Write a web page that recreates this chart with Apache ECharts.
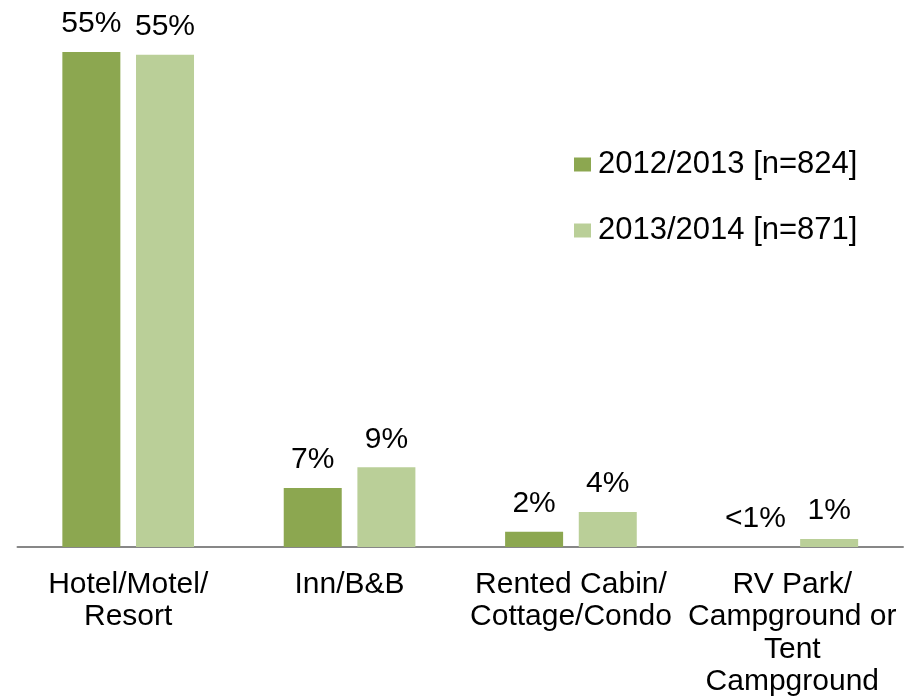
<!DOCTYPE html>
<html>
<head>
<meta charset="utf-8">
<script src="https://cdn.jsdelivr.net/npm/echarts@6/dist/echarts.min.js"></script>
<style>
  html, body { margin: 0; padding: 0; background: #fff; }
  #chart { width: 909px; height: 698px; }
</style>
</head>
<body>
<div id="chart"></div>
<script>
const categories = [
  "Hotel/Motel/\nResort",
  "Inn/B&B",
  "Rented Cabin/\nCottage/Condo",
  "RV Park/\nCampground or\nTent\nCampground"
];
const seriesNames = ["2012/2013 [n=824]", "2013/2014 [n=871]"];
const values2012 = [55.3, 6.6, 1.7, 0];
const values2013 = [55.0, 8.9, 3.9, 0.9];
const labels2012 = ["55%", "7%", "2%", "<1%"];
const labels2013 = ["55%", "9%", "4%", "1%"];

const chart = echarts.init(document.getElementById("chart"), null, { renderer: "canvas" });

const font = "Liberation Sans, Arial, sans-serif";

function makeSeries(name, values, labels, color) {
  return {
    name: name,
    type: "bar",
    barWidth: 58,
    barGap: "27%",
    itemStyle: { color: color },
    label: {
      show: true,
      position: "top",
      distance: 13,
      fontFamily: font,
      fontSize: 30,
      color: "#000",
      formatter: function (p) {
        return labels[p.dataIndex];
      }
    },
    data: values
  };
}

const option = {
  animation: false,
  legend: {
    orient: "vertical",
    left: 574,
    top: 149,
    padding: 0,
    icon: "rect",
    itemWidth: 17,
    itemHeight: 14,
    itemGap: 35,
    textStyle: { fontFamily: font, fontSize: 31, color: "#000", lineHeight: 31, padding: [0, 0, 0, 2] },
    data: seriesNames
  },
  grid: {
    left: 17.5,
    right: 6,
    top: 10,
    bottom: 151
  },
  xAxis: {
    type: "category",
    data: categories,
    axisLine: { lineStyle: { color: "#878787", width: 2 } },
    axisTick: { show: false },
    axisLabel: {
      interval: 0,
      margin: 21,
      fontFamily: font,
      fontSize: 30,
      lineHeight: 32.5,
      color: "#000"
    }
  },
  yAxis: {
    type: "value",
    min: 0,
    max: 60,
    show: false,
    splitLine: { show: false }
  },
  series: [
    makeSeries(seriesNames[0], values2012, labels2012, "#8CA750"),
    makeSeries(seriesNames[1], values2013, labels2013, "#BACF98")
  ]
};

chart.setOption(option);
</script>
</body>
</html>
